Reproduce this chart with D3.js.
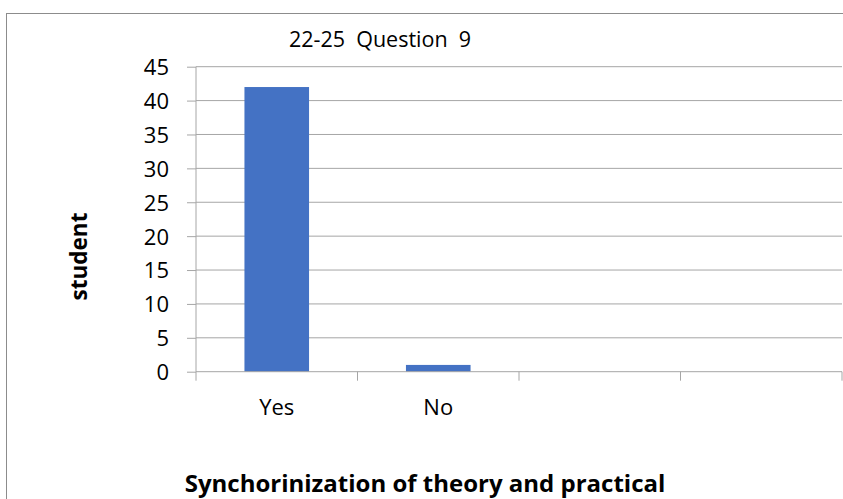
<!DOCTYPE html>
<html><head><meta charset="utf-8">
<script src="https://cdn.jsdelivr.net/npm/d3@7"></script>
<style>body{margin:0;background:#fff}svg{display:block}text{font-family:"Open Sans",sans-serif}</style>
</head><body><svg id="c" width="843" height="499"></svg>
<script>
const categories = ["Yes", "No", "", " "];
const values = [42, 1, null, null];
const yTicks = [0, 5, 10, 15, 20, 25, 30, 35, 40, 45];
const title = "22-25  Question  9";
const xTitle = "Synchorinization of theory and practical";
const yTitle = "student";

const svg = d3.select("#c");
const L = 196, R = 842, T = 66.7, B = 371.7;

svg.append("rect").attr("x", 6.5).attr("y", 13.5).attr("width", 850).attr("height", 500)
  .attr("fill", "none").attr("stroke", "#8c8c8c").attr("stroke-width", 1);

const x = d3.scaleBand().domain(categories).range([L, R]).padding(0);
const y = d3.scaleLinear().domain([0, 45]).range([B, T]);

// gridlines
svg.append("g").selectAll("line").data(yTicks.filter(d => d > 0)).join("line")
  .attr("x1", L).attr("x2", R).attr("y1", d => y(d)).attr("y2", d => y(d))
  .attr("stroke", "#a6a6a6").attr("stroke-width", 1);

// bars
svg.append("g").selectAll("rect").data(categories.map((c, i) => ({c, v: values[i]})).filter(d => d.v != null)).join("rect")
  .attr("x", d => x(d.c) + x.bandwidth() * 0.3)
  .attr("width", x.bandwidth() * 0.4)
  .attr("y", d => y(d.v))
  .attr("height", d => y(0) - y(d.v))
  .attr("fill", "#4472c4");

// y axis
const ya = svg.append("g").attr("transform", `translate(${L},0)`)
  .call(d3.axisLeft(y).tickValues(yTicks).tickSize(9).tickPadding(18));
ya.select(".domain").remove();
ya.append("line").attr("x1", 0).attr("x2", 0).attr("y1", T).attr("y2", B).attr("stroke", "#a6a6a6");
ya.selectAll(".tick line").attr("stroke", "#a6a6a6");
ya.selectAll(".tick text").attr("font-size", 22).attr("fill", "#000").attr("dy", "0.36em")
  .style("font-family", "'Open Sans',sans-serif");

// x axis
const xa = svg.append("g").attr("transform", `translate(0,${B})`);
xa.append("line").attr("x1", L).attr("x2", R).attr("y1", 0).attr("y2", 0).attr("stroke", "#a6a6a6");
const bounds = categories.map(c => x(c)).concat([x(categories[categories.length - 1]) + x.bandwidth()]);
xa.selectAll("line.tk").data(bounds).join("line").attr("class", "tk")
  .attr("x1", d => d).attr("x2", d => d).attr("y1", 0).attr("y2", 9).attr("stroke", "#a6a6a6");
xa.selectAll("text").data(categories).join("text")
  .attr("x", d => x(d) + x.bandwidth() / 2).attr("y", 43.3)
  .attr("text-anchor", "middle").attr("font-size", 22).text(d => d.trim());

svg.append("text").attr("x", 380).attr("y", 47).attr("font-size", 21.5).attr("text-anchor", "middle")
  .attr("xml:space", "preserve").style("white-space", "pre").text(title);

svg.append("text").attr("x", 425).attr("y", 491.5).attr("font-size", 24).attr("font-weight", "bold")
  .attr("text-anchor", "middle").text(xTitle);

svg.append("text").attr("transform", "translate(87,256.5) rotate(-90)").attr("font-size", 22.5)
  .attr("font-weight", "bold").attr("text-anchor", "middle").text(yTitle);
</script></body></html>
